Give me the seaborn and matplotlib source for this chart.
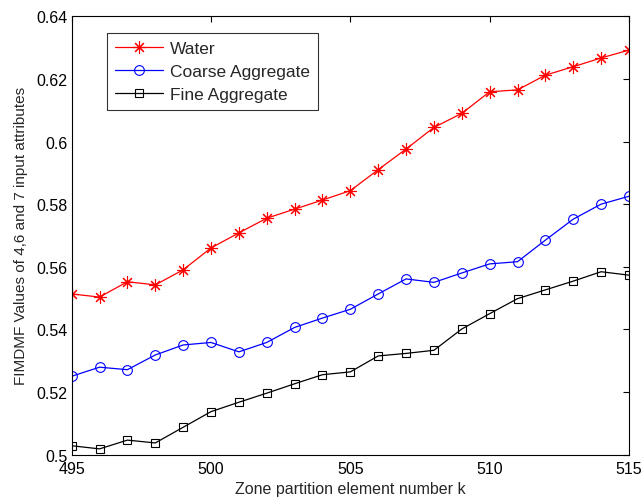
import matplotlib
matplotlib.use("Agg")
import matplotlib.pyplot as plt
import seaborn as sns
import pandas as pd

k = list(range(495, 516))
water = [0.5513, 0.5503, 0.5552, 0.5542, 0.5590, 0.5660, 0.5708, 0.5755, 0.5784, 0.5813,
         0.5843, 0.5910, 0.5976, 0.6045, 0.6090, 0.6159, 0.6165, 0.6212, 0.6239, 0.6267, 0.6292]
coarse = [0.5250, 0.5279, 0.5271, 0.5318, 0.5350, 0.5358, 0.5328, 0.5358, 0.5406, 0.5436,
          0.5464, 0.5513, 0.5561, 0.5550, 0.5580, 0.5609, 0.5616, 0.5685, 0.5752, 0.5800, 0.5825]
fine = [0.5028, 0.5018, 0.5046, 0.5037, 0.5087, 0.5137, 0.5167, 0.5196, 0.5226, 0.5255,
        0.5264, 0.5315, 0.5323, 0.5333, 0.5401, 0.5450, 0.5498, 0.5526, 0.5554, 0.5584, 0.5573]
series_names = ["Water", "Coarse Aggregate", "Fine Aggregate"]

df = pd.concat([
    pd.DataFrame({"k": k, "value": v, "series": n})
    for n, v in zip(series_names, [water, coarse, fine])
])

sns.set_theme(style="white")
plt.rcParams['font.family'] = ['Liberation Sans', 'DejaVu Sans']
plt.rcParams['xtick.direction'] = 'in'
plt.rcParams['ytick.direction'] = 'in'

fig = plt.figure(figsize=(6.44, 5.02), dpi=100)
ax = fig.add_axes([0.1113, 0.0926, 0.8654, 0.8729])

palette = {"Water": "#ff0000", "Coarse Aggregate": "#0000ff", "Fine Aggregate": "#000000"}
markers = {"Water": (8, 2, 0), "Coarse Aggregate": "o", "Fine Aggregate": "s"}
sizes_m = {"Water": 9, "Coarse Aggregate": 7, "Fine Aggregate": 6}

for n in series_names:
    sub = df[df["series"] == n]
    sns.lineplot(data=sub, x="k", y="value", ax=ax, color=palette[n], marker=markers[n],
                 markersize=sizes_m[n], markerfacecolor='none' if n != "Water" else palette[n],
                 markeredgecolor=palette[n], markeredgewidth=0.8, linewidth=0.9, label=n)

ax.set_xlim(495, 515)
ax.set_ylim(0.5, 0.64)
ax.set_xticks([495, 500, 505, 510, 515])
ax.set_yticks([0.5, 0.52, 0.54, 0.56, 0.58, 0.6, 0.62, 0.64])
ax.set_yticklabels(["0.5", "0.52", "0.54", "0.56", "0.58", "0.6", "0.62", "0.64"])
ax.tick_params(axis='both', labelsize=11.5, length=4, width=0.8, top=True, right=True, colors='black', pad=3)
ax.tick_params(axis='x', pad=5)
for s in ax.spines.values():
    s.set_color('black')
    s.set_linewidth(0.8)
ax.set_xlabel("Zone partition element number k", fontsize=11.5, labelpad=3)
ax.set_ylabel("FIMDMF Values of 4,6 and 7 input attributes", fontsize=11, labelpad=6)

leg = ax.legend(loc='upper left', bbox_to_anchor=(0.063, 0.962), fontsize=12.5, frameon=True,
                fancybox=False, edgecolor='black', handlelength=2.8, borderpad=0.45,
                labelspacing=0.45, handletextpad=0.4, borderaxespad=0)
leg.get_frame().set_linewidth(0.8)

fig.savefig("out.png", dpi=100)
